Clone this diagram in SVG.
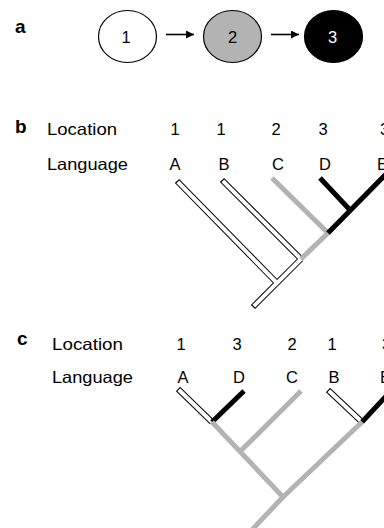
<svg xmlns="http://www.w3.org/2000/svg" width="384" height="528" viewBox="0 0 384 528">
<style>
text{font-family:"Liberation Sans",Arial,Helvetica,sans-serif;font-size:16.5px;fill:#000}
.pl{font-weight:bold;font-size:19px}
.mid{text-anchor:middle}
.num{font-size:16.5px;text-anchor:middle}
.node{stroke:#000;stroke-width:1.2}
.arr{stroke:#000;stroke-width:1.6;fill:none}
.ol{stroke:#000;stroke-width:6;fill:none;stroke-linecap:butt}
.in{stroke:#fff;stroke-width:4;fill:none;stroke-linecap:butt}
.gr{stroke:#b3b3b3;stroke-width:5;fill:none;stroke-linecap:butt;stroke-linejoin:miter}
.bk{stroke:#000;stroke-width:5;fill:none;stroke-linecap:butt;stroke-linejoin:miter}
</style>
<defs>
<marker id="ah" markerUnits="userSpaceOnUse" markerWidth="10" markerHeight="10" refX="8" refY="4" orient="auto">
<path d="M0,0 L8,4 L0,8 Z" fill="#000"/>
</marker>
</defs>
<rect width="384" height="528" fill="#fff"/>

<!-- panel labels -->
<text class="pl" x="15" y="33">a</text>
<text class="pl" x="15" y="133">b</text>
<text class="pl" x="17" y="345">c</text>

<!-- panel a nodes -->
<g id="node-1"><ellipse class="node" cx="127.5" cy="36.5" rx="29" ry="26" fill="#fff"/><text class="num" x="126" y="43">1</text></g>
<g id="node-2"><ellipse class="node" cx="232.5" cy="36.5" rx="29" ry="26" fill="#b3b3b3"/><text class="num" x="232.5" y="43">2</text></g>
<g id="node-3"><ellipse class="node" cx="333.5" cy="36.5" rx="29" ry="26" fill="#000"/><text class="num" x="332.5" y="43" style="fill:#fff">3</text></g>

<g id="connectors">
<line class="arr" x1="166" y1="34.5" x2="194" y2="34.5" marker-end="url(#ah)"/>
<line class="arr" x1="271" y1="34.5" x2="299" y2="34.5" marker-end="url(#ah)"/>

<!-- tree b -->
<g id="tree-b">
<path class="ol" d="M177,181 L277,283 M222,180 L301,259 M253,307 L301,259"/>
<path class="in" d="M177.8,181.8 L277,283 M222.8,180.8 L301,259 M253.8,306.2 L301,259"/>
<path class="gr" d="M272,178 L328,233 L301,259"/>
<path class="bk" d="M320,178 L350,210 M328,233 L390,170"/>
</g>

<!-- tree c -->
<g id="tree-c">
<path class="ol" d="M178,389 L212,422 M328,390 L362,422"/>
<path class="in" d="M178.8,389.8 L212,422 M328.8,390.8 L362,422"/>
<path class="bk" d="M244,391 L212,422 M390,392 L362,422"/>
<path class="gr" d="M212,422 L283,497 L248,534 M301,391 L240,451.6 M362,422 L283,497"/>
</g>
</g>

<!-- panel b labels -->
<g id="labels-b">
<text x="47" y="135" textLength="70" lengthAdjust="spacingAndGlyphs">Location</text>
<text x="47" y="170" textLength="81" lengthAdjust="spacingAndGlyphs">Language</text>
<text class="mid" x="175" y="135">1</text>
<text class="mid" x="221" y="135">1</text>
<text class="mid" x="276" y="135">2</text>
<text class="mid" x="323" y="135">3</text>
<text x="380" y="135">3</text>
<text class="mid" x="175" y="170">A</text>
<text class="mid" x="224" y="170">B</text>
<text class="mid" x="278" y="170">C</text>
<text class="mid" x="325" y="170">D</text>
<text x="377" y="170">E</text>
</g>

<!-- panel c labels -->
<g id="labels-c">
<text x="52" y="350" textLength="71" lengthAdjust="spacingAndGlyphs">Location</text>
<text x="52" y="383" textLength="81" lengthAdjust="spacingAndGlyphs">Language</text>
<text class="mid" x="181" y="350">1</text>
<text class="mid" x="237" y="350">3</text>
<text class="mid" x="292" y="350">2</text>
<text class="mid" x="332" y="350">1</text>
<text x="382" y="350">3</text>
<text class="mid" x="183" y="383">A</text>
<text class="mid" x="239" y="383">D</text>
<text class="mid" x="292" y="383">C</text>
<text class="mid" x="334" y="383">B</text>
<text x="380" y="383">E</text>
</g>
</svg>
